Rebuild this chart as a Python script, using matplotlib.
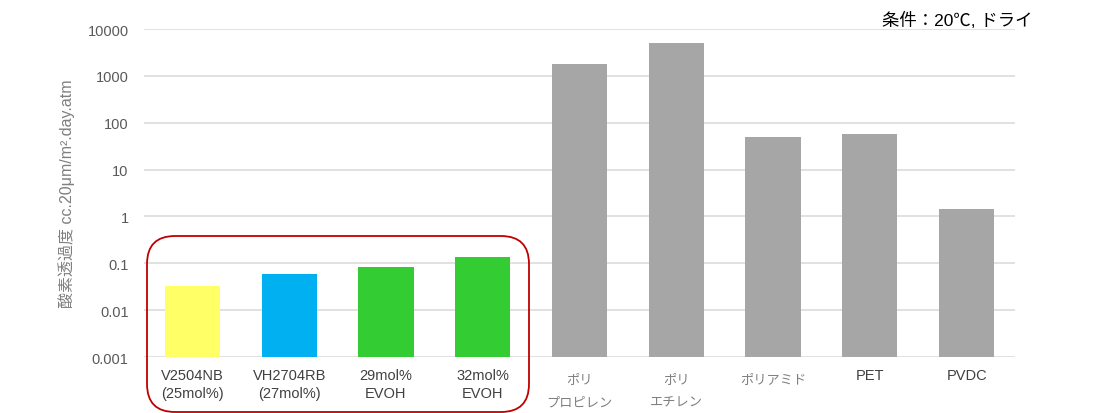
import matplotlib
matplotlib.use("Agg")
import matplotlib.pyplot as plt
from matplotlib.patches import FancyBboxPatch
from matplotlib.transforms import blended_transform_factory

plt.rcParams['font.family'] = ['Liberation Sans', 'Noto Sans CJK JP', 'DejaVu Sans']

# データ
categories = ["V2504NB\n(25mol%)", "VH2704RB\n(27mol%)", "29mol%\nEVOH", "32mol%\nEVOH",
              "ポリ\nプロピレン", "ポリ\nエチレン", "ポリアミド", "PET", "PVDC"]
values = [0.033, 0.058, 0.084, 0.135, 1780, 5000, 49, 58, 1.43]
colors = ["#FFFF66", "#00B0F0", "#33CC33", "#33CC33",
          "#A6A6A6", "#A6A6A6", "#A6A6A6", "#A6A6A6", "#A6A6A6"]
yticks = [0.001, 0.01, 0.1, 1, 10, 100, 1000, 10000]
ytick_labels = ["0.001", "0.01", "0.1", "1", "10", "100", "1000", "10000"]

fig = plt.figure(figsize=(11.1, 4.14), dpi=100)
ax = fig.add_axes([144 / 1110, 56 / 414, 871 / 1110, 328 / 414])

x = list(range(len(categories)))
ax.set_yscale("log")
ax.bar(x, values, width=0.57, color=colors, zorder=3)
ax.set_ylim(0.001, 10000)
ax.set_xlim(-0.5, len(categories) - 0.5)

ax.set_yticks(yticks, ytick_labels)
ax.minorticks_off()
ax.yaxis.grid(True, color="#D9D9D9", linewidth=1.1, zorder=0)
for s in ax.spines.values():
    s.set_visible(False)
ax.tick_params(axis="both", length=0, labelsize=10.5, colors="#595959")
ax.tick_params(axis="y", pad=11)

# x軸ラベル（手動で配置）
ax.set_xticks(x, [""] * len(x))
trans = blended_transform_factory(ax.transData, ax.transAxes)
for i, t in zip(x, categories):
    if t.isascii():
        ax.text(i, -0.033, t, transform=trans, ha="center", va="top",
                fontsize=10.5, color="#404040", linespacing=1.35)
    else:
        ax.text(i, -0.05, t, transform=trans, ha="center", va="top",
                fontsize=9.5, color="#808080", linespacing=2.25)

ax.set_ylabel("酸素透過度 cc.20μm/m².day.atm", fontsize=11.5, color="#7F7F7F", labelpad=9)

fig.text(1032 / 1110, 1 - 20 / 414, "条件：20℃, ドライ", ha="right", va="center",
         fontsize=12.5, color="black")

# 赤い角丸枠
over = fig.add_axes([0, 0, 1, 1], zorder=5)
over.set_xlim(0, 1110)
over.set_ylim(414, 0)
over.axis("off")
over.patch.set_alpha(0)
over.add_patch(FancyBboxPatch((147, 237), 382, 176,
                              boxstyle="round,pad=0,rounding_size=28",
                              fill=False, edgecolor="#C00000", linewidth=1.3))

fig.savefig("out.png", dpi=100)
